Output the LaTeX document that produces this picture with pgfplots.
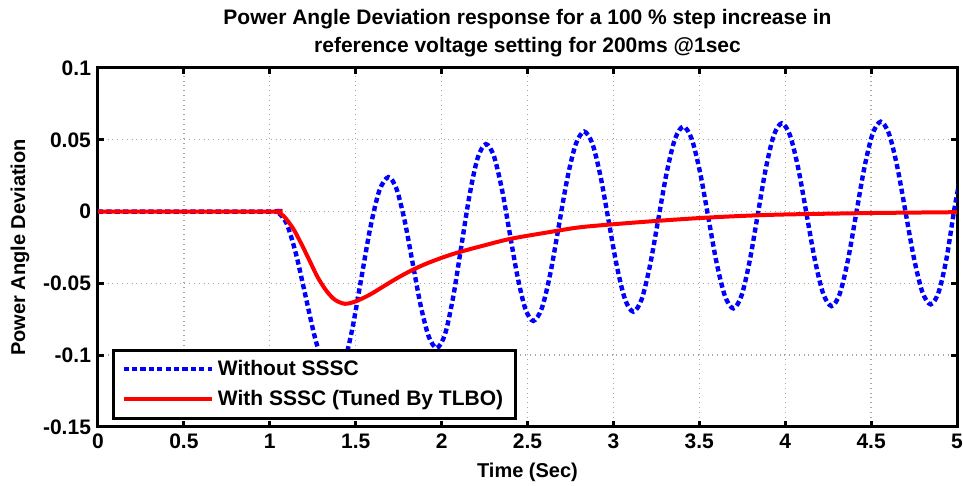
\documentclass[border=0pt]{standalone}
\usepackage{fontspec}
\setmainfont{Liberation Sans}
\usepackage{pgfplots}
\pgfplotsset{compat=1.18}
\definecolor{mblue}{RGB}{0,0,255}
\definecolor{mred}{RGB}{255,0,0}
\begin{document}
\begin{tikzpicture}
\begin{axis}[
  scale only axis, width=429.5pt, height=179.5pt,
  xmin=0, xmax=5, ymin=-0.15, ymax=0.1,
  xtick={0,0.5,1,1.5,2,2.5,3,3.5,4,4.5,5},
  xticklabels={0,0.5,1,1.5,2,2.5,3,3.5,4,4.5,5},
  ytick={-0.15,-0.1,-0.05,0,0.05,0.1},
  yticklabels={-0.15,-0.1,-0.05,0,0.05,0.1},
  tick align=inside, major tick length=3pt,
  tick style={line width=1.4pt, black},
  axis line style={line width=1.5pt},
  grid=major, grid style={dotted, gray!70, line width=0.7pt},
  ticklabel style={font=\bfseries\fontsize{10.5}{12}\selectfont},
  title={Power Angle Deviation response for a 100 \% step increase in\\reference voltage setting for 200ms @1sec},
  title style={font=\bfseries\fontsize{10.5}{14}\selectfont, align=center, yshift=-4pt},
  xlabel={Time (Sec)}, ylabel={Power Angle Deviation},
  label style={font=\bfseries\fontsize{10}{12}\selectfont},
  legend cell align=left,
  legend style={at={(0.0163,0.0195)}, anchor=south west, draw=black, line width=1.5pt,
    font=\bfseries\fontsize{10.5}{12.5}\selectfont, inner xsep=4pt, inner ysep=3pt, row sep=2pt},
  legend image code/.code={\draw[#1] (0pt,0pt) -- (44pt,0pt);},
  clip mode=individual,
]
\coordinate (sw) at (rel axis cs:0,0);
\coordinate (ne) at (rel axis cs:1,1);
\addplot[mblue, line width=2.2pt, dash pattern=on 2.6pt off 1.6pt, smooth] coordinates {
(0,0) (1.0,0) (1.04,0)
(1.096,-0.0078) (1.152,-0.0293) (1.2075,-0.0585) (1.263,-0.0878) (1.319,-0.1092) (1.375,-0.117)
(1.4275,-0.1076) (1.480,-0.0818) (1.5325,-0.0465) (1.585,-0.0113) (1.6375,0.0146) (1.69,0.024)
(1.737,0.0160) (1.784,-0.0058) (1.831,-0.0355) (1.878,-0.0653) (1.925,-0.0870) (1.972,-0.095)
(2.0197,-0.0855) (2.0673,-0.0595) (2.115,-0.024) (2.1627,0.0115) (2.2103,0.0375) (2.258,0.047)
(2.304,0.0388) (2.350,0.0162) (2.396,-0.0146) (2.442,-0.0453) (2.488,-0.0679) (2.534,-0.0761)
(2.5833,-0.0673) (2.6327,-0.0432) (2.682,-0.0102) (2.7313,0.0228) (2.7807,0.0469) (2.83,0.0557)
(2.8777,0.0473) (2.9253,0.0244) (2.973,-0.0070) (3.0207,-0.0384) (3.0683,-0.0613) (3.116,-0.0697)
(3.1645,-0.0611) (3.213,-0.0375) (3.2615,-0.0053) (3.310,0.0270) (3.3585,0.0506) (3.407,0.0592)
(3.4555,0.0507) (3.504,0.0276) (3.5525,-0.0041) (3.601,-0.0358) (3.6495,-0.0589) (3.698,-0.0674)
(3.745,-0.0588) (3.792,-0.0352) (3.839,-0.0030) (3.886,0.0293) (3.933,0.0529) (3.98,0.0615)
(4.0283,0.0530) (4.0767,0.0297) (4.125,-0.0022) (4.1733,-0.0340) (4.2217,-0.0573) (4.27,-0.0658)
(4.3177,-0.0572) (4.3653,-0.0337) (4.413,-0.0016) (4.4607,0.0305) (4.5083,0.0540) (4.556,0.0626)
(4.6045,0.0541) (4.653,0.0308) (4.7015,-0.0010) (4.750,-0.0328) (4.7985,-0.0561) (4.847,-0.0646)
(4.893,-0.0561) (4.939,-0.0327) (4.985,0.0020) (5.031,0.0311)
};
\addlegendentry{Without SSSC}
\addplot[mred, line width=2pt, smooth] coordinates {
(0,0) (1.0,0) (1.04,0) (1.08,-0.003) (1.137,-0.012) (1.19,-0.024) (1.234,-0.0348)
(1.28,-0.046) (1.331,-0.0554) (1.38,-0.0615) (1.438,-0.0642) (1.5,-0.0625) (1.583,-0.0578)
(1.66,-0.0522) (1.739,-0.0465) (1.816,-0.0415) (1.9,-0.0368) (2.0,-0.0322) (2.1,-0.0283)
(2.243,-0.0237) (2.4,-0.019) (2.631,-0.0142) (2.8,-0.011) (3.0,-0.0088) (3.25,-0.0065) (3.5,-0.0045)
(3.75,-0.003) (4.0,-0.002) (4.5,-0.001) (5,-0.0004)
};
\addlegendentry{With SSSC (Tuned By TLBO)}
\end{axis}
\pgfresetboundingbox
\useasboundingbox ([shift={(-49pt,-29.5pt)}]sw) rectangle ([shift={(3pt,34pt)}]ne);
\end{tikzpicture}
\end{document}
